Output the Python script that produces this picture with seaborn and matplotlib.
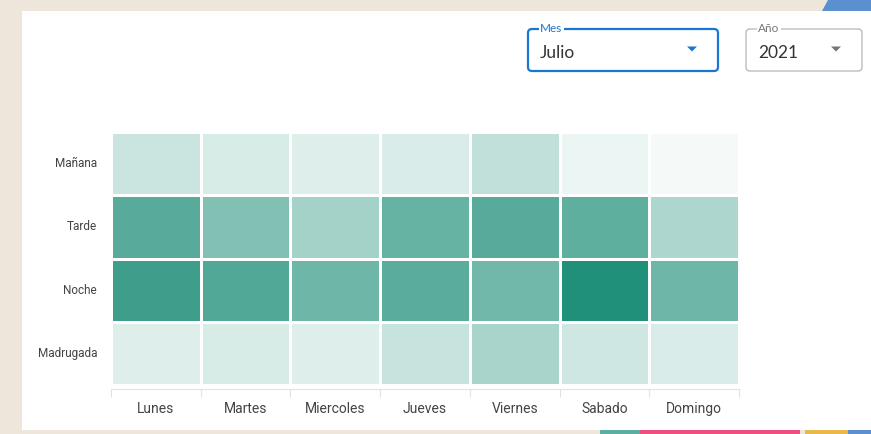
import numpy as np
import pandas as pd
import seaborn as sns
import matplotlib.pyplot as plt
from matplotlib.colors import LinearSegmentedColormap
from matplotlib.patches import FancyBboxPatch, Rectangle, Polygon

dias = ['Lunes', 'Martes', 'Miercoles', 'Jueves', 'Viernes', 'Sabado', 'Domingo']
turnos = ['Mañana', 'Tarde', 'Noche', 'Madrugada']

manana = [24, 18, 15, 17, 28, 9, 5]
tarde = [75, 57, 41, 69, 75, 72, 37]
noche = [87, 78, 65, 74, 64, 100, 65]
madrugada = [15, 18, 15, 25, 39, 22, 17]

mes = 'Julio'
anio = '2021'

df = pd.DataFrame([manana, tarde, noche, madrugada], index=turnos, columns=dias)

sns.set_style('white')
plt.rcParams['font.family'] = ['Roboto', 'DejaVu Sans']

W, H = 871, 434
fig = plt.figure(figsize=(W / 100, H / 100), dpi=100)
fig.patch.set_facecolor('#EEE6DA')

# white panel
fig.patches.append(Rectangle((22, 4), W - 22, 434 - 4 - 11, transform=None,
                             facecolor='white', edgecolor='none', zorder=-2))
# decorative corner / bottom stripes
fig.patches.append(Polygon([(828, 434), (871, 434), (871, 423), (822, 423)], closed=True,
                           transform=None, facecolor='#5B8FD0', edgecolor='none', zorder=-2))
for x0, x1, c in [(600, 640, '#5AAFA0'), (640, 800, '#EF4F7E'), (805, 848, '#E8B84A'), (848, 871, '#5B8FD0')]:
    fig.patches.append(Rectangle((x0, 0), x1 - x0, 4, transform=None,
                                 facecolor=c, edgecolor='none', zorder=-2))

cmap = LinearSegmentedColormap.from_list('verde', ['#FFFFFF', '#21907A'])

ax = fig.add_axes([111 / W, 1 - 385 / H, (739 - 111) / W, (385 - 132) / H])
sns.heatmap(df, ax=ax, cmap=cmap, vmin=0, vmax=100, cbar=False,
            linewidths=1.0, linecolor='white')

ax.tick_params(axis='both', which='major', length=0, colors='#444444')
ax.set_xticklabels(dias, rotation=0, fontsize=9.5, color='#444444')
ax.set_yticklabels(turnos, rotation=0, fontsize=8.5, color='#444444')
ax.tick_params(axis='x', pad=9)
ax.tick_params(axis='y', pad=10)
ax.set_xlabel('')
ax.set_ylabel('')

# axis line with boundary ticks
ax.set_xticks(np.arange(0, len(dias) + 1), minor=True)
ax.tick_params(axis='x', which='minor', bottom=True, length=6, width=0.8,
               color='#E2E2E2', direction='out')
for s in ['top', 'right', 'left']:
    ax.spines[s].set_visible(False)
ax.spines['bottom'].set_visible(True)
ax.spines['bottom'].set_color('#E2E2E2')
ax.spines['bottom'].set_linewidth(0.8)
ax.spines['bottom'].set_position(('outward', 3))

# dropdowns
def dropdown(x, y, w, h, label, value, color, lw, arrow_color, label_color):
    fig.patches.append(FancyBboxPatch((x, y), w, h, boxstyle='round,pad=0,rounding_size=4',
                                      transform=None, facecolor='white', edgecolor=color,
                                      linewidth=lw, zorder=2))
    fig.text(x + 12, y + h, label, transform=None, fontsize=8.5, color=label_color,
             va='center', ha='left', family=['Lato', 'DejaVu Sans'],
             bbox=dict(facecolor='white', edgecolor='none', pad=1), zorder=3)
    fig.text(x + 12, y + h / 2 - 3, value, transform=None, fontsize=12.5, color='#333333',
             va='center', ha='left', family=['Lato', 'DejaVu Sans'], zorder=3)
    ax_x = x + w - 26
    ay = y + h / 2 + 1
    fig.patches.append(Polygon([(ax_x - 5, ay + 2.5), (ax_x + 5, ay + 2.5), (ax_x, ay - 2.5)],
                               closed=True, transform=None, facecolor=arrow_color,
                               edgecolor='none', zorder=3))

dropdown(528, H - 71, 190, 42, 'Mes', mes, '#1976D2', 1.6, '#1976D2', '#1976D2')
dropdown(746, H - 71, 116, 42, 'Año', anio, '#BDBDBD', 1.0, '#757575', '#777777')

fig.savefig('out.png', dpi=100, facecolor=fig.get_facecolor())
